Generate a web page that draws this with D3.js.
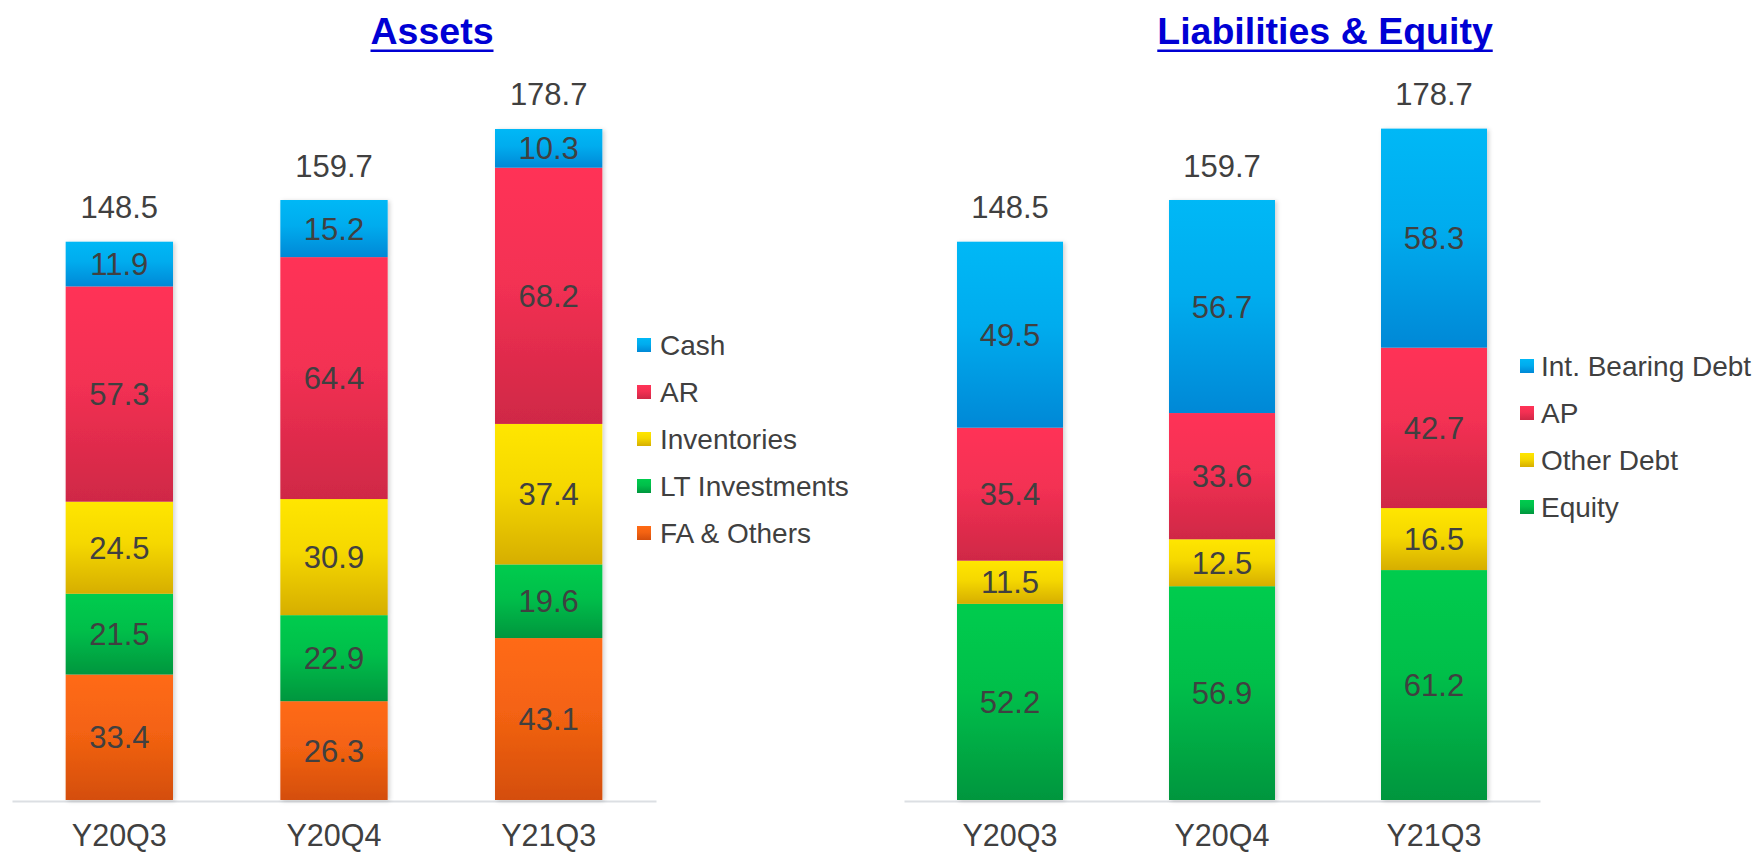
<!DOCTYPE html>
<html>
<head>
<meta charset="utf-8">
<script src="https://cdn.jsdelivr.net/npm/d3@7"></script>
<style>
  html, body { margin: 0; padding: 0; background: #ffffff; }
  svg { display: block; }
  text { font-family: "Liberation Sans", Arial, sans-serif; }
</style>
</head>
<body>
<svg id="chart" width="1758" height="853"></svg>
<script>
// ---------- DATA ----------
const categories = ["Y20Q3", "Y20Q4", "Y21Q3"];

const assetSeries = ["Cash", "AR", "Inventories", "LT Investments", "FA & Others"];
const cash          = [11.9, 15.2, 10.3];
const ar            = [57.3, 64.4, 68.2];
const inventories   = [24.5, 30.9, 37.4];
const ltInvestments = [21.5, 22.9, 19.6];
const faOthers      = [33.4, 26.3, 43.1];
const assetTotals   = [148.5, 159.7, 178.7];

const liabSeries = ["Int. Bearing Debt", "AP", "Other Debt", "Equity"];
const intDebt    = [49.5, 56.7, 58.3];
const ap         = [35.4, 33.6, 42.7];
const otherDebt  = [11.5, 12.5, 16.5];
const equity     = [52.2, 56.9, 61.2];
const liabTotals = [148.5, 159.7, 178.7];

// ---------- STYLE ----------
const palette = {
  blue:   ["#00b8f6", "#0088d6"],
  red:    ["#ff3357", "#cf2846"],
  yellow: ["#ffe600", "#d6ae00"],
  green:  ["#00cc4e", "#00963e"],
  orange: ["#ff6a14", "#d44e0c"]
};
const textColor = "#404040";

const svg = d3.select("#chart");
const defs = svg.append("defs");
Object.entries(palette).forEach(([k, c]) => {
  const g = defs.append("linearGradient").attr("id", "g-" + k)
    .attr("x1", 0).attr("y1", 0).attr("x2", 0).attr("y2", 1);
  g.append("stop").attr("offset", "0%").attr("stop-color", c[0]);
  g.append("stop").attr("offset", "45%").attr("stop-color", d3.interpolateRgb(c[0], c[1])(0.25));
  g.append("stop").attr("offset", "100%").attr("stop-color", c[1]);
});
const shadow = defs.append("filter").attr("id", "shadow")
  .attr("x", "-10%").attr("y", "-5%").attr("width", "130%").attr("height", "115%");
shadow.append("feDropShadow").attr("dx", 2).attr("dy", 1)
  .attr("stdDeviation", 2).attr("flood-color", "#000").attr("flood-opacity", 0.18);

const baseline = 800;
const y = d3.scaleLinear().domain([0, 200]).range([baseline, baseline - 200 * 3.757]);

function drawPanel(opt) {
  const { seriesNames, seriesValues, colors, totals, xRange, title, titleX, legendSq, legendText, legendY } = opt;
  const x = d3.scaleBand().domain(categories).range(xRange).paddingInner(0.5).paddingOuter(0.25);

  const rows = categories.map((c, i) => {
    const o = { cat: c };
    seriesNames.forEach((s, j) => { o[s] = seriesValues[j][i]; });
    return o;
  });
  // stack order: last series at bottom
  const stack = d3.stack().keys(seriesNames.slice().reverse())(rows);

  const g = svg.append("g");

  // axis line (baseline)
  const axis = d3.axisBottom(x).tickSize(0).tickPadding(0);
  const axG = g.append("g").attr("transform", `translate(0,${baseline + 1})`).call(axis);
  axG.select(".domain").attr("stroke", "#dcdfe3").attr("stroke-width", 2);
  axG.selectAll(".tick text")
    .attr("fill", textColor).attr("font-size", 30.5)
    .attr("dy", 0).attr("y", 45);

  const barsG = g.append("g").attr("filter", "url(#shadow)");
  stack.forEach(layer => {
    const s = layer.key;
    const col = colors[s];
    barsG.selectAll(null).data(layer).join("rect")
      .attr("x", d => x(d.data.cat))
      .attr("width", x.bandwidth())
      .attr("y", d => y(d[1]))
      .attr("height", d => y(d[0]) - y(d[1]))
      .attr("fill", `url(#g-${col})`);
  });
  stack.forEach(layer => {
    g.selectAll(null).data(layer).join("text")
      .attr("x", d => x(d.data.cat) + x.bandwidth() / 2)
      .attr("y", d => (y(d[0]) + y(d[1])) / 2 + 11)
      .attr("text-anchor", "middle")
      .attr("font-size", 31)
      .attr("fill", textColor)
      .text(d => d3.format(".1f")(d.data[layer.key]));
  });

  // totals
  const topStack = stack[stack.length - 1];
  g.selectAll(null).data(topStack).join("text")
    .attr("x", d => x(d.data.cat) + x.bandwidth() / 2)
    .attr("y", (d, i) => y(d[1]) - 23.5)
    .attr("text-anchor", "middle")
    .attr("font-size", 31)
    .attr("fill", textColor)
    .text((d, i) => d3.format(".1f")(totals[i]));

  // title
  const t = g.append("text").attr("x", titleX).attr("y", 44)
    .attr("text-anchor", "middle").attr("font-size", 37.5).attr("font-weight", "bold")
    .attr("fill", "#0000d4").text(title);
  const tw = t.node().getComputedTextLength();
  g.append("rect").attr("x", titleX - tw / 2).attr("y", 49.5).attr("width", tw).attr("height", 2.5)
    .attr("fill", "#0000d4");

  // legend
  const lg = g.append("g");
  seriesNames.forEach((s, i) => {
    const cy = legendY[i];
    lg.append("rect").attr("x", legendSq).attr("y", cy - 7).attr("width", 14).attr("height", 14)
      .attr("fill", `url(#g-${colors[s]})`);
    lg.append("text").attr("x", legendText).attr("y", cy + 10)
      .attr("font-size", 28).attr("fill", textColor).text(s);
  });
}

drawPanel({
  seriesNames: assetSeries,
  seriesValues: [cash, ar, inventories, ltInvestments, faOthers],
  colors: { "Cash": "blue", "AR": "red", "Inventories": "yellow", "LT Investments": "green", "FA & Others": "orange" },
  totals: assetTotals,
  xRange: [12, 656],
  title: "Assets",
  titleX: 432,
  legendSq: 637,
  legendText: 660,
  legendY: [345, 392, 439, 486, 533]
});

drawPanel({
  seriesNames: liabSeries,
  seriesValues: [intDebt, ap, otherDebt, equity],
  colors: { "Int. Bearing Debt": "blue", "AP": "red", "Other Debt": "yellow", "Equity": "green" },
  totals: liabTotals,
  xRange: [904, 1540],
  title: "Liabilities & Equity",
  titleX: 1325,
  legendSq: 1520,
  legendText: 1541,
  legendY: [366, 413, 460, 507]
});
</script>
</body>
</html>
